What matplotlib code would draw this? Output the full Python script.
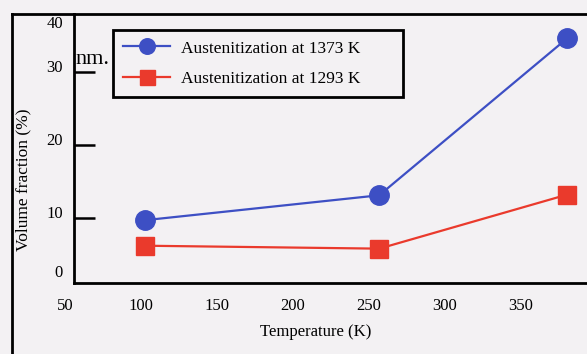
import matplotlib.pyplot as plt
from matplotlib.lines import Line2D
from matplotlib.transforms import ScaledTranslation

# values
temp = [103, 257, 381]
vol_1373 = [9.7, 13.1, 34.6]
vol_1293 = [6.2, 5.8, 13.2]
ytick_vals = [1.9, 10, 20, 30, 36.0]
ytick_labels = ['0', '10', '20', '30', '40']
xtick_vals = [50, 100, 150, 200, 250, 300, 350]

plt.rcParams['font.family'] = ['Liberation Serif', 'DejaVu Serif']
bg = '#f3f1f3'
blue = '#3d4fc4'
red = '#ea3a2c'

W, H = 587, 354
fig = plt.figure(figsize=(W / 100, H / 100), dpi=100, facecolor=bg)
ax = fig.add_axes([62 / W, (H - 283) / H, (W - 62) / W, 269 / H])
ax.set_facecolor(bg)

ax.plot(temp, vol_1373, '-o', color=blue, lw=1.6, ms=14, label='Austenitization at 1373 K', clip_on=False)
ax.plot(temp, vol_1293, '-s', color=red, lw=1.6, ms=13.5, label='Austenitization at 1293 K', clip_on=False)

# y axis sits a little right of the "50" label, as in the scan
ax.spines['left'].set_position(('data', 56))
ax.spines['bottom'].set_bounds(56, 393.9)
ax.spines['top'].set_bounds(56, 393.9)
for s in ['left', 'bottom', 'top']:
    ax.spines[s].set_linewidth(2)
ax.spines['right'].set_visible(False)

ax.set_xticks(xtick_vals)
ax.set_xticklabels([str(v) for v in xtick_vals])
ax.tick_params(axis='x', length=0, pad=11, labelsize=12)
ax.set_yticks(ytick_vals)
ax.set_yticklabels(ytick_labels)
ax.tick_params(axis='y', direction='in', length=15, width=1.8, pad=8, labelsize=12)
ax.set_xlim(48.0, 393.9)
ax.set_ylim(1.1, 37.9)
for t in ax.yaxis.get_major_ticks():
    if t.get_loc() in (ytick_vals[0], ytick_vals[-1]):
        t.tick1line.set_visible(False)
for lab in ax.get_yticklabels():
    lab.set_transform(lab.get_transform() + ScaledTranslation(0, 6 / 100, fig.dpi_scale_trans))

ax.set_xlabel('Temperature (K)', fontsize=12)
ax.xaxis.set_label_coords((316 - 62) / 525, -(324 - 283) / 269)
ax.set_ylabel('Volume fraction (%)', fontsize=12.5)
ax.yaxis.set_label_coords((31 - 62) / 525, (283 - 180) / 269)

leg = ax.legend(loc='upper left', bbox_to_anchor=(51 / 525, 0.699, 290 / 525, 0.2416),
                mode='expand', fontsize=12.5, frameon=True, fancybox=False,
                handlelength=2.7, markerscale=0.8, borderpad=0.6, labelspacing=0.8,
                handletextpad=0.6, borderaxespad=0)
leg.get_frame().set_edgecolor('black')
leg.get_frame().set_linewidth(2)
leg.get_frame().set_facecolor(bg)
leg.get_frame().set_alpha(1)

# scan artefact text
fig.text(75 / W, 1 - 60 / H, 'nm.', fontsize=16, va='center', ha='left')

# outer frame lines of the scan
fig.add_artist(Line2D([12 / W, 12 / W], [0, 1 - 14 / H], color='black', lw=2))
fig.add_artist(Line2D([12 / W, 74 / W], [1 - 14 / H, 1 - 14 / H], color='black', lw=2))

fig.savefig('out.png', dpi=100, facecolor=bg)
